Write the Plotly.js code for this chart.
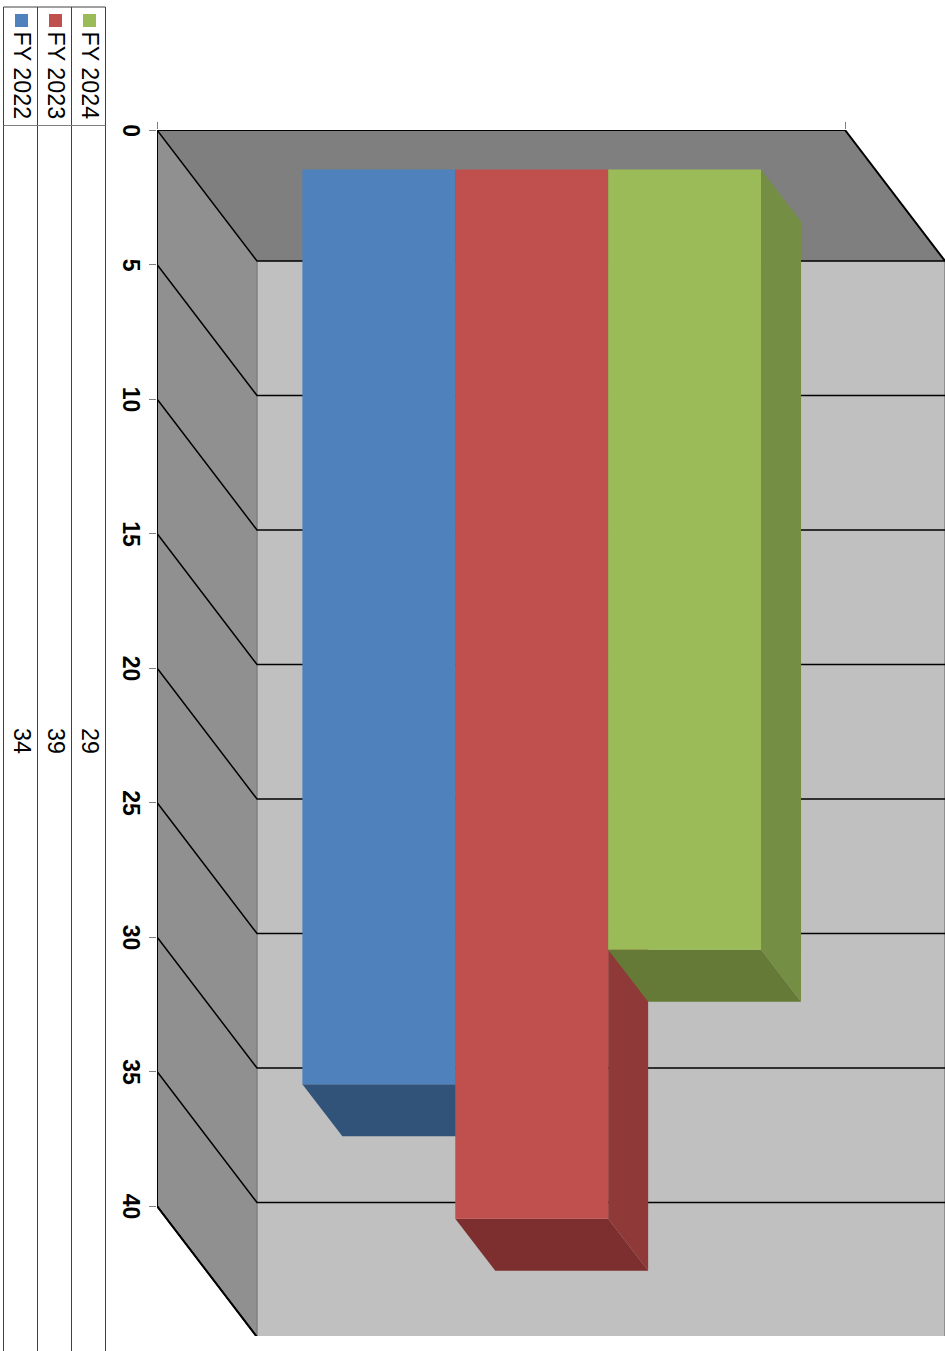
<!DOCTYPE html>
<html><head><meta charset="utf-8">
<script src="https://cdn.plot.ly/plotly-3.0.1.min.js"></script>
<style>html,body{margin:0;padding:0;background:#fff;overflow:hidden}</style></head>
<body><div id="chart" style="width:945px;height:1351px"></div>
<script>
// ---- data ----
const seriesNames = ['FY 2022', 'FY 2023', 'FY 2024'];
const seriesValues = [34, 39, 29];
const seriesColors = ['#4f81bd', '#c0504d', '#9bbb59'];
const sideColors = ['#3a5f8c', '#8f3a38', '#748e43'];
const bottomColors = ['#325379', '#7c2f2e', '#657a37'];
const tickValues = [0, 5, 10, 15, 20, 25, 30, 35, 40];

// ---- geometry ----
const W = 945, H = 1351;
const L = 157, T = 130, R = 945, B = 1336;
const pxPerCat = 688, pxPerVal = 26.9;
const valMax = 40;
const wallDX = 100 / pxPerCat, wallDY = 131 / pxPerVal;
const barDX = 40 / pxPerCat, barDY = 52 / pxPerVal;
const barOffX = 30.7 / pxPerCat, barOffY = 39.6 / pxPerVal;
const catL = -0.5, catR = 0.5;
const xRange = [catL, catL + (R - L) / pxPerCat];
const yRange = [(B - T) / pxPerVal, 0];
const barGap = 1 / 3;
const barW = (1 - barGap) / seriesValues.length;

const px = v => (v - L) / (R - L);
const py = v => 1 - (v - T) / (B - T);

function poly(xs, ys, color) {
  return {type: 'scatter', mode: 'lines', x: xs.concat(xs[0]), y: ys.concat(ys[0]), fill: 'toself',
    fillcolor: color, line: {width: 0, color: color}, hoverinfo: 'skip', showlegend: false, cliponaxis: false};
}
function lines(xs, ys, color, width) {
  return {type: 'scatter', mode: 'lines', x: xs, y: ys, line: {color: color, width: width},
    hoverinfo: 'skip', showlegend: false, cliponaxis: false, connectgaps: false};
}

const traces = [];
// walls
traces.push(poly([catL, catR, catR + wallDX, catL + wallDX], [0, 0, wallDY, wallDY], '#7f7f7f'));
traces.push(poly([catL, catL + wallDX, catL + wallDX, catL], [0, wallDY, valMax + wallDY, valMax], '#909090'));
traces.push(poly([catL + wallDX, catR + wallDX, catR + wallDX, catL + wallDX],
  [wallDY, wallDY, valMax + wallDY, valMax + wallDY], '#c0c0c0'));
// wall seams
traces.push(lines([catL + wallDX, catL + wallDX, catR + wallDX, catR + wallDX],
  [wallDY, valMax + wallDY, valMax + wallDY, wallDY], '#808080', 1.5));
// gridlines
const gx = [], gy = [];
tickValues.forEach(t => {
  gx.push(catL, catL + wallDX, catR + wallDX, null);
  gy.push(t, t + wallDY, t + wallDY, null);
});
traces.push(lines(gx, gy, '#000000', 1.5));
// frame
traces.push(lines([catL + wallDX, catL, catL, catR, catR + wallDX], [valMax + wallDY, valMax, 0, 0, wallDY], '#000000', 2));

// bar depth faces, drawn from the values
seriesValues.forEach((v, i) => {
  const x0 = barOffX + (i - seriesValues.length / 2) * barW, x1 = x0 + barW;
  const y0 = barOffY, y1 = barOffY + v;
  traces.push(poly([x1, x1 + barDX, x1 + barDX, x1], [y0, y0 + barDY, y1 + barDY, y1], sideColors[i]));
  traces.push(poly([x0, x1, x1 + barDX, x0 + barDX], [y1, y1, y1 + barDY, y1 + barDY], bottomColors[i]));
});
// bar front faces on the overlay axes
seriesValues.forEach((v, i) => {
  traces.push({type: 'bar', x: [barOffX], y: [v], base: [barOffY], name: seriesNames[i],
    marker: {color: seriesColors[i], line: {width: 0}}, xaxis: 'x2', yaxis: 'y2',
    hoverinfo: 'skip', showlegend: false});
});

// ---- data table at the left ----
const colX = [3.5, 37.5, 71.5, 105.5];
const tableTop = 7, tableHead = 125.5;
const tableColor = '#404040';
const shapes = [];
colX.forEach(x => shapes.push({type: 'line', xref: 'paper', yref: 'paper', x0: px(x), x1: px(x),
  y0: py(tableTop), y1: py(H), line: {color: tableColor, width: 1}}));
[tableTop, tableHead].forEach(y => shapes.push({type: 'line', xref: 'paper', yref: 'paper',
  x0: px(colX[0]), x1: px(colX[3]), y0: py(y), y1: py(y),
  line: {color: y === tableTop ? tableColor : '#808080', width: 1}}));
const annotations = [];
const font = {family: '"Liberation Sans", Arial, sans-serif', size: 23.3, color: '#000000'};
seriesNames.forEach((n, i) => {
  const cx = (colX[i] + colX[i + 1]) / 2;
  shapes.push({type: 'rect', xref: 'paper', yref: 'paper', x0: px(cx - 5.5), x1: px(cx + 7.5),
    y0: py(14), y1: py(27), fillcolor: seriesColors[i], line: {width: 0}});
  annotations.push({xref: 'paper', yref: 'paper', x: px(cx + 1.5), y: py(29.5), text: n, textangle: 90,
    showarrow: false, xanchor: 'center', yanchor: 'top', font: font});
  annotations.push({xref: 'paper', yref: 'paper', x: px(cx + 1.5), y: py(726), text: String(seriesValues[i]), textangle: 90,
    showarrow: false, xanchor: 'center', yanchor: 'top', font: font});
});

const layout = {
  width: W, height: H, paper_bgcolor: '#ffffff', plot_bgcolor: 'rgba(0,0,0,0)',
  margin: {l: L, r: W - R, t: T, b: H - B, pad: 0},
  showlegend: false, barmode: 'group', bargap: barGap, bargroupgap: 0,
  xaxis: {range: xRange, side: 'top', showgrid: false, zeroline: false, showline: false,
    tickmode: 'array', tickvals: [catL, catR], ticktext: ['', ''], ticks: 'outside', ticklen: 7,
    tickcolor: '#808080', tickwidth: 1, showticklabels: false},
  yaxis: {range: yRange, showgrid: false, zeroline: false, showline: false,
    tickmode: 'array', tickvals: tickValues, ticktext: tickValues.map(String), ticks: 'outside', ticklen: 7,
    tickcolor: '#808080', tickwidth: 1, tickangle: 90, ticklabelshift: -4, ticklabelstandoff: -2,
    tickfont: {family: '"Liberation Sans", Arial, sans-serif', size: 23, color: '#000000', weight: 'bold'}},
  xaxis2: {range: xRange, overlaying: 'x', visible: false},
  yaxis2: {range: yRange, overlaying: 'y', visible: false},
  shapes: shapes, annotations: annotations
};
Plotly.newPlot('chart', traces, layout, {displayModeBar: false, staticPlot: true});
</script></body></html>
